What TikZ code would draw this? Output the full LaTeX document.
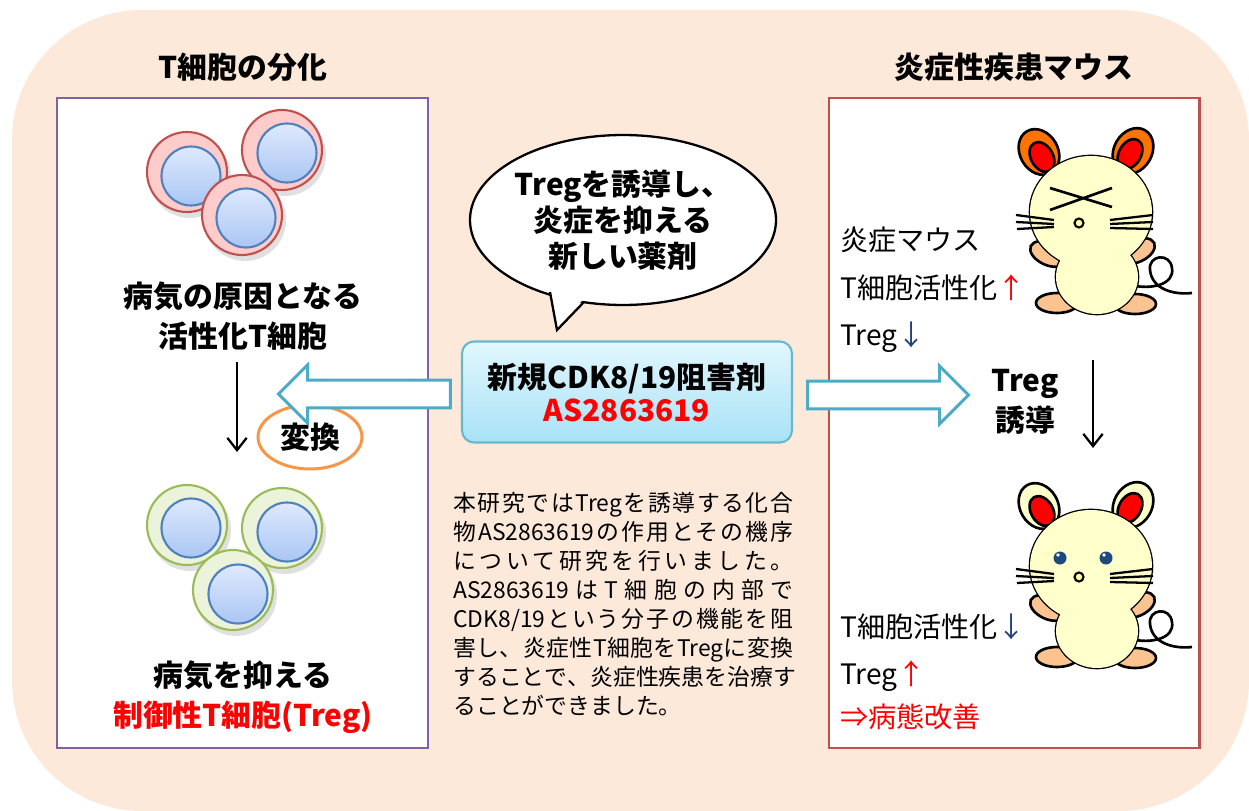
\documentclass[tikz,border=0pt]{standalone}
\usepackage{fontspec}
\setmainfont{Noto Sans CJK JP}
\usetikzlibrary{shapes.geometric,shapes.arrows,arrows.meta,positioning,calc}

\definecolor{bgpeach}{HTML}{FDE9DA}
\definecolor{frameL}{HTML}{8064A2}
\definecolor{frameR}{HTML}{C0504D}
\definecolor{teal}{HTML}{4BACC6}
\definecolor{orng}{HTML}{F79646}
\definecolor{navy}{HTML}{1F3F7F}
\definecolor{nucTop}{HTML}{DEE9FD}
\definecolor{nucBot}{HTML}{AAC6F4}
\definecolor{nucEdge}{HTML}{4F81BD}
\definecolor{redcell}{HTML}{FFCCCC}
\definecolor{greencell}{HTML}{EBF4DA}
\definecolor{greenEdge}{HTML}{9BBB59}
\definecolor{drugTop}{HTML}{E2F7FE}
\definecolor{drugBot}{HTML}{A8E2F6}
\definecolor{mcream}{HTML}{FFFFCC}
\definecolor{mpeach}{HTML}{FBC38F}
\definecolor{mear}{HTML}{FF7300}
\definecolor{mnose}{HTML}{FFFF99}
\definecolor{meye}{HTML}{1F497D}

\tikzset{
  title/.style={font=\bfseries\fontsize{17}{20}\selectfont},
  label/.style={font=\bfseries\fontsize{17}{22.5}\selectfont, align=center},
  note/.style={font=\fontsize{16}{19}\selectfont, anchor=west, inner sep=0pt},
  frame/.style={line width=1.7pt, fill=white},
  darr/.style={line width=1.3pt, -{Straight Barb[length=7pt,width=11pt]}},
  blockarrow/.style={single arrow, draw=teal, fill=white, line width=1.7pt,
    minimum width=1.1cm, inner sep=0.25cm, single arrow head extend=0.3cm,
    single arrow tip angle=90},
}

% spread the characters of a line evenly (groups stay together)
\def\spreadstop{\spreadstop}
\def\spreadline#1{\spreadfirst#1\spreadstop}
\def\spreadfirst#1{#1\spreadrest}
\def\spreadrest#1{\def\spreadtok{#1}%
  \ifx\spreadtok\spreadstop\else\hfil#1\expandafter\spreadrest\fi}
\newcommand{\jline}[1]{\makebox[6.8cm][s]{\spreadline{#1}}}

% one cell: outer ring, nucleus
\newcommand{\drawcell}[4]{%
  \fill[black, opacity=.12] ($(#1)+(3,5)$) circle [radius=41];
  \filldraw[fill=#3, draw=#4, line width=1.2pt] (#1) circle [radius=40];
  \shadedraw[top color=nucTop, bottom color=nucBot, draw=nucEdge, line width=1.2pt]
    (#2) circle [radius=29.5];
}

% a mouse around its head centre: #1 centre, #2 ear colour, #3 face
\newcommand{\mouse}[3]{%
  \begin{scope}[shift={(#1)}, line width=1.5pt]
    % tail
    \draw (40,73) .. controls (59,78) and (84,73) .. (81,56)
      .. controls (79,40) and (57,43) .. (59,58)
      .. controls (61,78) and (84,83) .. (101,81);
    % ears
    \filldraw[fill=#2, rotate around={30:(-52,-60)}] (-52,-60) ellipse [x radius=19, y radius=24];
    \filldraw[fill=red, rotate around={30:(-49,-55)}] (-49,-55) ellipse [x radius=11, y radius=16];
    \filldraw[fill=#2, rotate around={-30:(42,-61)}] (42,-61) ellipse [x radius=19, y radius=24];
    \filldraw[fill=red, rotate around={-30:(39,-58)}] (39,-58) ellipse [x radius=11, y radius=16];
    % arms and feet
    \filldraw[fill=mpeach, rotate around={-25:(-43,42)}] (-43,42) ellipse [x radius=19, y radius=11];
    \filldraw[fill=mpeach, rotate around={25:(46,39)}] (46,39) ellipse [x radius=19, y radius=11];
    \filldraw[fill=mpeach] (-34,91) ellipse [x radius=21, y radius=10];
    \filldraw[fill=mpeach] (44,92) ellipse [x radius=21, y radius=10];
    % head and body
    \draw (0,0) ellipse [x radius=61, y radius=56] (6,65) ellipse [x radius=41, y radius=37];
    \fill[mcream] (0,0) ellipse [x radius=61, y radius=56] (6,65) ellipse [x radius=41, y radius=37];
    % whiskers
    \draw[line width=1.3pt] (-75,3) -- (-37,8) (-75,10) -- (-37,12) (-74,17) -- (-37,15);
    \draw[line width=1.3pt] (19,8) -- (62,3) (19,12) -- (62,10) (19,16) -- (62,17);
    % nose
    \filldraw[fill=mnose, line width=1.2pt] (-12,11) circle [radius=4.5];
    #3
  \end{scope}}

\begin{document}
\begin{tikzpicture}[x=0.02cm, y=-0.02cm]
\useasboundingbox (0,0) rectangle (1249,811);
\fill[bgpeach, rounded corners=2.6cm] (12,10) rectangle (1249,811);

% frames and titles
\draw[frame, draw=frameL] (57,98) rectangle (428,748);
\draw[frame, draw=frameR] (829,98) rectangle (1199,748);
\node[title] (ltitle) at (243,67) {T細胞の分化};
\node[title] (rtitle) at (1014,67) {炎症性疾患マウス};

% activated T cells
\drawcell{187,172}{191,176}{redcell}{frameR}
\drawcell{282,150}{287,153}{redcell}{frameR}
\drawcell{242,215}{246,218}{redcell}{frameR}
\node[label] (cause) at (243,316) {病気の原因となる\\活性化T細胞};

% conversion
\coordinate (c1) at (237,362);
\coordinate (c2) at (237,452);
\draw[darr] (c1) -- (c2);
\node[ellipse, draw=orng, fill=white, line width=1.7pt, minimum width=2.08cm,
  minimum height=1.28cm, inner sep=0pt, font=\bfseries\fontsize{17}{20}\selectfont]
  (conv) at (310,437) {変換};

% regulatory T cells
\drawcell{187,525}{191,528}{greencell}{greenEdge}
\drawcell{282,528}{287,532}{greencell}{greenEdge}
\drawcell{233,590}{238,594}{greencell}{greenEdge}
\node[label] (treg) at (243,697) {病気を抑える\\\textcolor{red}{制御性T細胞(Treg)}};

% speech bubble
\node[ellipse, draw, fill=white, line width=1.3pt, minimum width=5.9cm,
  minimum height=3.4cm, inner sep=0pt, align=center,
  font=\bfseries\fontsize{17}{20.5}\selectfont] (bubble) at (623,220)
  {Tregを誘導し、\\炎症を抑える\\新しい薬剤};
\fill[white] (548,286) -- (557,330) -- (586,296) -- cycle;
\draw[line width=1.3pt] (550,292) -- (557,330) -- (584,302);

% drug
\node[draw=teal!85, line width=1.2pt, rounded corners=0.24cm, top color=drugTop,
  bottom color=drugBot, minimum width=6.6cm, minimum height=2.02cm, align=center,
  font=\bfseries\fontsize{17}{18.8}\selectfont] (drug) at (627,392)
  {新規CDK8/19阻害剤\\\textcolor{red}{AS2863619}};
\node[blockarrow, shape border rotate=180, minimum height=3.44cm, anchor=tail]
  (toleft) at ($(drug.west)+(-9,2)$) {};
\node[blockarrow, minimum height=3.22cm, anchor=tail]
  (toright) at ($(drug.east)+(13,3)$) {};

% summary
\node[anchor=west, inner sep=0pt, align=left, font=\fontsize{13}{16.5}\selectfont]
  (summary) at (453,604) {%
  \jline{本研究では{Treg}を誘導する化合}\\
  \jline{物{AS2863619}の作用とその機序}\\
  \jline{について研究を行いました。}\\
  \jline{{AS2863619}はT細胞の内部で}\\
  \jline{{CDK8/19}という分子の機能を阻}\\
  \jline{害し、炎症性T細胞を{Treg}に変換}\\
  \jline{することで、炎症性疾患を治療す}\\
  ることができました。};

% mice
\mouse{1091,212}{mear}{%
  \draw (-41,-24) -- (21,-5) (-41,-2) -- (21,-24);}
\mouse{1091,566}{mcream}{%
  \fill[meye] (-31,-8) circle [radius=6.5] (15,-8) circle [radius=6.5];
  \fill[white] (-33,-11) circle [radius=1.8] (13,-11) circle [radius=1.8];}

\node[note] (sick) at (840,240) {炎症マウス};
\node[note] (act1) at (840,288) {T細胞活性化\textcolor{red}{↑}};
\node[note] (treg1) at (840,337) {Treg\textcolor{navy}{↓}};
\node[label] (induce) at (1025,402) {Treg\\誘導};
\coordinate (m1) at (1093,360);
\coordinate (m2) at (1093,448);
\draw[darr] (m1) -- (m2);
\node[note] (act2) at (840,627) {T細胞活性化\textcolor{navy}{↓}};
\node[note] (treg2) at (840,676) {Treg\textcolor{red}{↑}};
\node[note, text=red] (better) at (840,717) {⇒病態改善};
\end{tikzpicture}
\end{document}
